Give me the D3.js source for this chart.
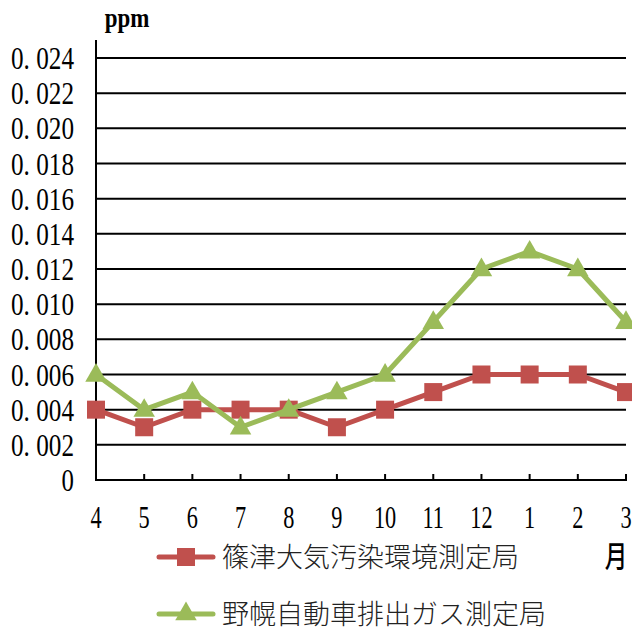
<!DOCTYPE html>
<html><head><meta charset="utf-8">
<script src="https://cdn.jsdelivr.net/npm/d3@7"></script>
<style>body{margin:0;background:#fff}</style>
</head><body>
<svg id="c" width="632" height="633"></svg>
<script>
const months = ["4","5","6","7","8","9","10","11","12","1","2","3"];
const shinotsu = [0.004,0.003,0.004,0.004,0.004,0.003,0.004,0.005,0.006,0.006,0.006,0.005];
const nopporo = [0.006,0.004,0.005,0.003,0.004,0.005,0.006,0.009,0.012,0.013,0.012,0.009];
const yTicks = [0,0.002,0.004,0.006,0.008,0.010,0.012,0.014,0.016,0.018,0.020,0.022,0.024];
const yTickLabels = ["0","0. 002","0. 004","0. 006","0. 008","0. 010","0. 012","0. 014","0. 016","0. 018","0. 020","0. 022","0. 024"];
const seriesNames = ["篠津大気汚染環境測定局","野幌自動車排出ガス測定局"];
const colors = ["#C0504D","#9BBB59"];

(function(){
const svg = d3.select("#c");
const pL = 96, pR = 626, pT = 58, pB = 480;
const x = d3.scalePoint().domain(months).range([pL, pR]);
const y = d3.scaleLinear().domain([0,0.024]).range([pB, pT]);
const serif = "'Liberation Serif','DejaVu Serif',serif";

svg.append("g").selectAll("line").data(yTicks.slice(1)).join("line")
  .attr("x1", pL).attr("x2", pR).attr("y1", d=>y(d)).attr("y2", d=>y(d))
  .attr("stroke","#000").attr("stroke-width",2);

svg.append("line").attr("x1",pL).attr("x2",pL).attr("y1",40).attr("y2",pB+1)
  .attr("stroke","#000").attr("stroke-width",2);
svg.append("line").attr("x1",pL).attr("x2",pR+1).attr("y1",pB).attr("y2",pB)
  .attr("stroke","#000").attr("stroke-width",2);
svg.append("g").selectAll("line").data(months).join("line")
  .attr("x1",d=>x(d)).attr("x2",d=>x(d)).attr("y1",pB).attr("y2",pB-6)
  .attr("stroke","#000").attr("stroke-width",2);

svg.append("g").selectAll("text").data(yTicks).join("text")
  .attr("x",74).attr("y",d=>y(d)+11)
  .attr("text-anchor","end")
  .attr("font-family",serif).attr("font-size",31)
  .attr("textLength",(d,i)=> i===0 ? null : 63).attr("lengthAdjust","spacingAndGlyphs")
  .attr("transform",(d,i)=> i===0 ? `translate(74,0) scale(0.8,1) translate(-74,0)` : null)
  .text((d,i)=>yTickLabels[i]);

svg.append("g").selectAll("text").data(months).join("text")
  .attr("x",d=>x(d)).attr("y",528)
  .attr("text-anchor","middle")
  .attr("font-family",serif).attr("font-size",31)
  .attr("transform",d=>`translate(${x(d)},0) scale(0.72,1) translate(${-x(d)},0)`)
  .text(d=>d);

svg.append("text").attr("x",127).attr("y",27).attr("text-anchor","middle")
  .attr("font-family",serif).attr("font-size",28).attr("font-weight","bold")
  .attr("transform","translate(127,0) scale(0.82,1) translate(-127,0)").text("ppm");
svg.append("text").attr("x",616).attr("y",567).attr("text-anchor","middle")
  .attr("font-family","'Noto Sans CJK JP'").attr("font-size",30).attr("font-weight",500)
  .attr("transform","translate(616,0) scale(0.75,1) translate(-616,0)").text("月");

const line = d3.line().x((d,i)=>x(months[i])).y(d=>y(d));
const data = [shinotsu, nopporo];
const tri = d3.symbol().type(d3.symbolTriangle).size(200);

data.forEach((vals, s) => {
  const g = svg.append("g");
  g.append("path").attr("d", line(vals)).attr("fill","none")
    .attr("stroke",colors[s]).attr("stroke-width",5).attr("stroke-linejoin","round");
  if (s===0) {
    g.selectAll("rect").data(vals).join("rect")
      .attr("x",(d,i)=>x(months[i])-9).attr("y",d=>y(d)-9)
      .attr("width",18).attr("height",18).attr("fill",colors[s]);
  } else {
    g.selectAll("path.m").data(vals).join("path").attr("class","m")
      .attr("d",tri).attr("transform",(d,i)=>`translate(${x(months[i])},${y(d)+1})`)
      .attr("fill",colors[s]);
  }
});

const legY = [557, 614];
seriesNames.forEach((n, s) => {
  const g = svg.append("g");
  g.append("line").attr("x1",159).attr("x2",213).attr("y1",legY[s]).attr("y2",legY[s])
    .attr("stroke",colors[s]).attr("stroke-width",5).attr("stroke-linecap","round");
  if (s===0) g.append("rect").attr("x",177).attr("y",legY[s]-9).attr("width",18).attr("height",18).attr("fill",colors[s]);
  else g.append("path").attr("d",tri).attr("transform",`translate(186,${legY[s]})`).attr("fill",colors[s]);
  g.append("text").attr("x",222).attr("y",legY[s]+10).attr("font-family","'Noto Sans CJK JP'")
    .attr("font-size",27).attr("font-weight",300).attr("fill","#222").text(n);
});
})();
</script>
</body></html>
